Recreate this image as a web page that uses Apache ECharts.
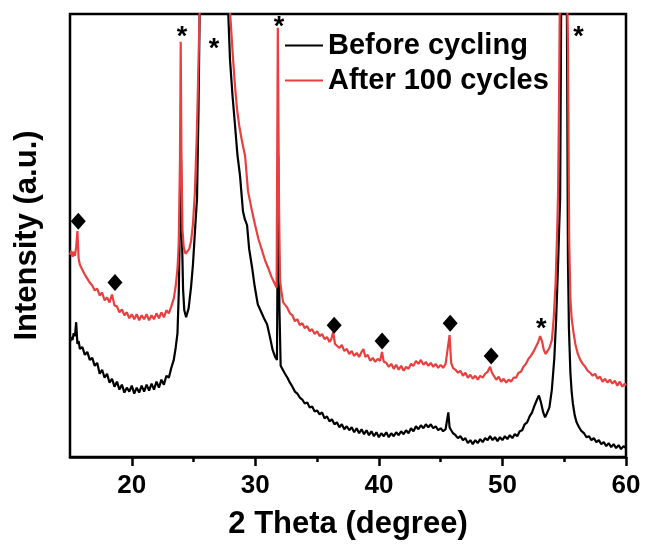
<!DOCTYPE html>
<html>
<head>
<meta charset="utf-8">
<script src="https://cdn.jsdelivr.net/npm/echarts@6/dist/echarts.min.js"></script>
<style>
html,body{margin:0;padding:0;background:#fff;}
#chart{width:646px;height:545px;}
</style>
</head>
<body>
<div id="chart"></div>
<script>
var seriesNames = ['Before cycling', 'After 100 cycles'];
var xTickLabels = [20, 30, 40, 50, 60];
var xMinorTicks = [25, 35, 45, 55];

var beforeCycling = [
[15.0,116],[15.1,121],[15.2,118],[15.3,125],[15.4,122],[15.5,136],[15.6,114],[15.7,117],[15.8,109],[16.0,111],
[16.2,103],[16.4,106],[16.6,98],[16.8,100],[17.0,92],[17.2,95],[17.4,84],[17.6,88],[17.8,80],[18.0,84],
[18.2,75],[18.4,79],[18.6,71],[18.8,76],[19.0,68],[19.2,73],[19.4,65],[19.6,70],[19.8,66],[20.0,72],
[20.2,64],[20.4,70],[20.6,65],[20.8,72],[21.0,66],[21.2,73],[21.4,67],[21.6,74],[21.8,68],[22.0,76],
[22.2,70],[22.4,78],[22.6,73],[22.8,82],[23.0,80],[23.2,90],[23.4,98],[23.55,110],[23.7,125],[23.8,165],
[23.9,240],[23.97,318],[24.05,230],[24.15,170],[24.25,148],[24.4,141],[24.6,150],[24.8,172],[24.95,194],[25.1,225],
[25.28,261],[25.4,350],[25.5,455],[25.7,620],[26.0,780],[26.5,900],[27.0,860],[27.4,700],[27.7,520],[27.8,451],
[27.95,401],[28.15,365],[28.36,334],[28.55,305],[28.76,284],[29.0,248],[29.15,240],[29.33,234],[29.5,210],[29.74,191],
[29.95,172],[30.2,154],[30.45,147],[30.7,140],[30.95,134],[31.2,120],[31.4,108],[31.6,101],[31.75,98],[31.85,304],
[31.95,150],[32.05,92],[32.2,90],[32.4,84],[32.6,80],[32.8,75],[33.0,71],[33.2,66],[33.4,64],[33.6,60],
[33.8,58],[34.0,54],[34.2,55],[34.4,50],[34.6,51],[34.8,46],[35.0,47],[35.2,43],[35.4,45],[35.6,39],
[35.8,41],[36.0,36],[36.2,38],[36.4,33],[36.6,35],[36.8,30],[37.0,33],[37.2,28],[37.4,31],[37.6,27],
[37.8,30],[38.0,25],[38.2,29],[38.4,24],[38.6,28],[38.8,23],[39.0,27],[39.2,22],[39.4,26],[39.6,21],
[39.8,25],[40.0,20],[40.2,24],[40.4,21],[40.6,25],[40.8,20],[41.0,24],[41.2,21],[41.4,25],[41.6,22],
[41.8,26],[42.0,23],[42.2,27],[42.4,24],[42.6,29],[42.8,26],[43.0,31],[43.2,28],[43.4,32],[43.6,29],
[43.8,33],[44.0,30],[44.2,33],[44.4,29],[44.6,31],[44.8,27],[45.0,29],[45.2,26],[45.4,28],[45.62,45],
[45.72,30],[45.85,27],[46.0,24],[46.2,22],[46.4,19],[46.6,21],[46.8,17],[47.0,19],[47.2,14],[47.4,17],
[47.6,13],[47.8,17],[48.0,14],[48.2,18],[48.4,15],[48.6,19],[48.8,17],[49.0,21],[49.2,17],[49.4,20],
[49.6,16],[49.8,20],[50.0,17],[50.2,21],[50.4,18],[50.6,22],[50.8,19],[51.0,23],[51.2,21],[51.4,26],
[51.6,27],[51.8,33],[52.0,35],[52.2,41],[52.4,45],[52.6,52],[52.8,58],[52.95,62],[53.1,56],[53.3,45],
[53.45,40],[53.6,44],[53.8,50],[54.0,68],[54.2,100],[54.35,140],[54.5,194],[54.6,235],[54.67,261],[54.75,450],
[54.85,580],[54.95,620],[55.05,580],[55.15,500],[55.22,440],[55.3,200],[55.38,130],[55.5,85],[55.6,66],[55.7,54],
[55.85,42],[56.0,35],[56.2,30],[56.4,26],[56.6,24],[56.8,20],[57.0,21],[57.2,17],[57.4,19],[57.6,15],
[57.8,17],[58.0,13],[58.2,15],[58.4,11],[58.6,14],[58.8,10],[59.0,13],[59.2,9],[59.4,12],[59.6,8],
[59.8,11],[60.0,9]
];

var after100Cycles = [
[15.0,204],[15.1,208],[15.2,202],[15.3,207],[15.4,203],[15.5,212],[15.6,228],[15.7,200],[15.8,194],[16.0,189],
[16.2,184],[16.4,180],[16.6,176],[16.8,173],[17.0,168],[17.2,170],[17.4,163],[17.6,166],[17.8,158],[18.0,161],
[18.2,156],[18.4,164],[18.6,153],[18.8,152],[19.0,146],[19.2,149],[19.4,143],[19.6,146],[19.8,140],[20.0,144],
[20.2,139],[20.4,144],[20.6,138],[20.8,143],[21.0,139],[21.2,144],[21.4,138],[21.6,143],[21.8,139],[22.0,145],
[22.2,140],[22.4,146],[22.6,141],[22.8,148],[23.0,145],[23.2,152],[23.4,160],[23.55,172],[23.7,190],[23.8,215],
[23.9,300],[23.96,419],[24.02,300],[24.1,230],[24.2,212],[24.35,205],[24.5,204],[24.65,210],[24.8,218],[24.95,235],
[25.1,265],[25.25,320],[25.35,370],[25.5,455],[25.7,620],[26.0,790],[26.5,920],[27.0,880],[27.4,720],[27.7,560],
[27.95,450],[28.2,401],[28.35,375],[28.52,351],[28.7,334],[28.93,318],[29.17,304],[29.41,268],[29.7,250],[29.98,234],
[30.25,220],[30.55,208],[30.8,198],[31.03,191],[31.3,182],[31.6,174],[31.72,171],[31.82,433],[31.92,250],[32.0,178],
[32.1,168],[32.25,156],[32.4,154],[32.57,151],[32.8,145],[33.0,143],[33.2,137],[33.4,139],[33.6,133],[33.8,135],
[34.0,130],[34.2,132],[34.4,127],[34.6,129],[34.8,124],[35.0,127],[35.2,122],[35.4,124],[35.6,119],[35.8,121],
[36.0,116],[36.15,119],[36.3,126],[36.45,114],[36.6,116],[36.8,110],[37.0,113],[37.2,107],[37.4,109],[37.6,104],
[37.8,107],[38.0,102],[38.2,105],[38.4,101],[38.6,106],[38.75,109],[38.9,101],[39.1,103],[39.3,97],[39.5,100],
[39.7,96],[39.9,99],[40.1,97],[40.25,106],[40.4,96],[40.6,95],[40.8,91],[41.0,94],[41.2,89],[41.4,93],
[41.6,88],[41.8,92],[42.0,87],[42.2,91],[42.4,89],[42.6,94],[42.8,92],[43.0,97],[43.2,94],[43.4,98],
[43.6,93],[43.8,96],[44.0,92],[44.2,95],[44.4,91],[44.6,94],[44.8,90],[45.0,93],[45.2,90],[45.4,94],
[45.55,96],[45.72,123],[45.85,95],[46.0,90],[46.2,88],[46.4,85],[46.6,87],[46.8,82],[47.0,85],[47.2,80],
[47.4,83],[47.6,79],[47.8,82],[48.0,78],[48.2,82],[48.4,80],[48.6,84],[48.8,86],[49.0,91],[49.15,85],
[49.3,83],[49.5,78],[49.7,81],[49.9,76],[50.1,79],[50.3,75],[50.5,78],[50.7,76],[50.9,80],[51.1,80],
[51.3,85],[51.5,86],[51.7,91],[51.9,94],[52.1,99],[52.3,102],[52.5,106],[52.7,111],[52.9,116],[53.05,122],
[53.2,117],[53.35,108],[53.5,104],[53.65,106],[53.8,110],[54.0,118],[54.15,140],[54.3,175],[54.43,228],[54.5,265],
[54.58,360],[54.65,470],[54.8,620],[54.95,650],[55.1,590],[55.22,480],[55.3,420],[55.4,220],[55.5,160],[55.6,140],
[55.75,126],[55.9,114],[56.1,104],[56.3,98],[56.5,94],[56.7,91],[56.9,87],[57.1,85],[57.3,82],[57.5,84],
[57.7,79],[57.9,81],[58.1,76],[58.3,79],[58.5,75],[58.7,78],[58.9,74],[59.1,77],[59.3,72],[59.5,76],
[59.7,71],[59.9,74],[60.0,72]
];

var diamondPeaks = [[15.67,238],[18.64,176],[36.38,133],[40.26,117],[45.77,135],[49.09,102]];
var asteriskPeaks = [[24.07,428],[26.66,416],[31.92,438],[53.14,134],[56.16,428]];

var FONT = '"Liberation Sans", Arial, Helvetica, sans-serif';
var chart = echarts.init(document.getElementById('chart'), null, {renderer: 'canvas'});
chart.setOption({
  animation: false,
  backgroundColor: '#fff',
  grid: {left: 70, right: 20, top: 14, bottom: 84, show: true, borderColor: '#000', borderWidth: 2.5, backgroundColor: 'transparent'},
  legend: {
    data: [{name: seriesNames[0], icon: 'rect'}, {name: seriesNames[1], icon: 'rect'}],
    orient: 'vertical', left: 280, top: 26,
    itemWidth: 38, itemHeight: 2, itemGap: 6,
    textStyle: {fontSize: 29, fontWeight: 'bold', fontFamily: FONT, color: '#000'}
  },
  xAxis: [{
    type: 'value', min: 15, max: 60, position: 'bottom',
    axisLine: {show: true, lineStyle: {color: '#000', width: 2.5}},
    axisTick: {show: true, length: 9, lineStyle: {color: '#000', width: 2.5}, customValues: xTickLabels},
    axisLabel: {customValues: xTickLabels, fontSize: 26, fontWeight: 'bold', fontFamily: FONT, color: '#000', margin: 16},
    splitLine: {show: false},
    name: '2 Theta (degree)', nameLocation: 'middle', nameGap: 52,
    nameTextStyle: {fontSize: 31, fontWeight: 'bold', fontFamily: FONT, color: '#000'}
  }, {
    type: 'value', min: 15, max: 60, position: 'bottom',
    axisLine: {show: false},
    axisTick: {show: true, length: 5, lineStyle: {color: '#000', width: 2.5}, customValues: xMinorTicks},
    axisLabel: {show: false},
    splitLine: {show: false}
  }],
  yAxis: {
    type: 'value', min: 0, max: 447,
    axisLine: {show: false}, axisTick: {show: false}, axisLabel: {show: false}, splitLine: {show: false},
    name: 'Intensity (a.u.)', nameLocation: 'middle', nameGap: 27, nameRotate: 90,
    nameTextStyle: {fontSize: 31, fontWeight: 'bold', fontFamily: FONT, color: '#000'}
  },
  series: [{
    name: seriesNames[0], type: 'line', data: beforeCycling, symbol: 'none', clip: true,
    lineStyle: {color: '#000', width: 2.2}, itemStyle: {color: '#000'}
  }, {
    name: seriesNames[1], type: 'line', data: after100Cycles, symbol: 'none', clip: true,
    lineStyle: {color: '#E8403F', width: 2.2}, itemStyle: {color: '#E8403F'}
  }, {
    name: 'diamonds', type: 'scatter', data: diamondPeaks, symbol: 'diamond', symbolSize: [15, 17],
    itemStyle: {color: '#000', opacity: 1}, z: 5
  }, {
    name: 'asterisks', type: 'scatter', data: asteriskPeaks, symbol: 'circle', symbolSize: 1,
    itemStyle: {color: 'rgba(0,0,0,0)', opacity: 1}, z: 5,
    label: {show: true, position: 'inside', formatter: '*', fontSize: 27, fontWeight: 'bold', fontFamily: FONT, color: '#000', offset: [0, 5]}
  }]
});
</script>
</body>
</html>
